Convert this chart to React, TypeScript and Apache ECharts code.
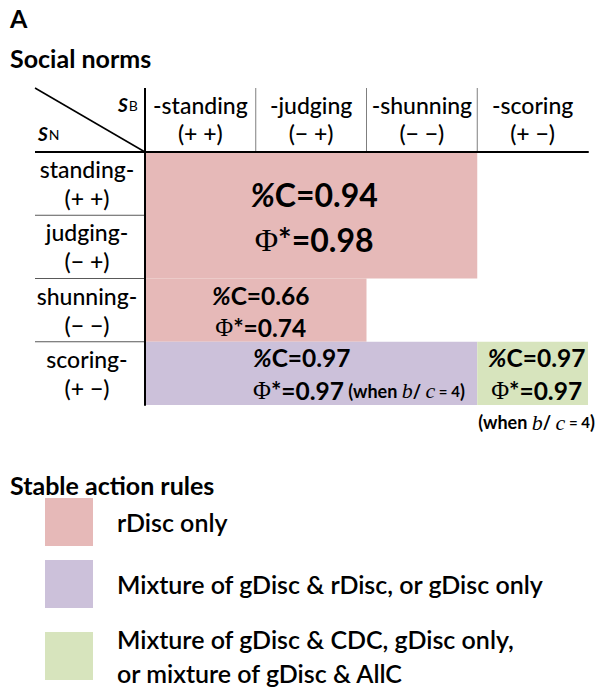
import React, { useEffect, useRef } from 'react';
import * as echarts from 'echarts';

// ---------- data ----------
const colNorms = ['-standing', '-judging', '-shunning', '-scoring'];
const colSigns = ['(+ +)', '(− +)', '(− −)', '(+ −)'];
const rowNorms = ['standing-', 'judging-', 'shunning-', 'scoring-'];
const rowSigns = ['(+ +)', '(− +)', '(− −)', '(+ −)'];
const ruleNames = [
  'rDisc only',
  'Mixture of gDisc & rDisc, or gDisc only',
  'Mixture of gDisc & CDC, gDisc only,\nor mixture of gDisc & AllC',
];
const ruleColors = ['#e6b9b8', '#ccc1da', '#d7e4bd'];
// blocks of norm combinations sharing the same stable action rules
const blockRule = [0, 0, 1, 2];
const blockColStart = [0, 0, 0, 3];
const blockColEnd = [2, 1, 2, 3];
const blockRowStart = [0, 2, 3, 3];
const blockRowEnd = [1, 2, 3, 3];
const blockCoop = [0.94, 0.66, 0.97, 0.97];
const blockPhi = [0.98, 0.74, 0.97, 0.97];
const blockBC = [0, 0, 4, 4]; // b/c condition (0 = none)

// ---------- layout (not data) ----------
const FONT = 'Lato';
const GRID = { left: 145, top: 152, width: 443, height: 253 };
const HEADER_TOP = 88;
const LABEL_LEFT = 35;
const blockTextLayout = [
  { size: 32, lh: 45, align: 'center', dx: 3, dy: 2, below: false },
  { size: 24.5, lh: 32, align: 'center', dx: 5, dy: 1, below: false },
  { size: 24.5, lh: 33, align: 'left', dx: 108, dy: 1, below: false },
  { size: 24.5, lh: 33, align: 'center', dx: 4, dy: 1, below: true },
];

function richFor(size: number, lh: number) {
  return {
    pct: { fontFamily: FONT, fontSize: size, fontWeight: 'bold', fontStyle: 'italic', lineHeight: lh, fill: '#000' },
    m: { fontFamily: FONT, fontSize: size, fontWeight: 'bold', lineHeight: lh, fill: '#000' },
    phi: { fontFamily: 'Liberation Serif', fontSize: size, lineHeight: lh, fill: '#000' },
    s: { fontFamily: FONT, fontSize: 18, fontWeight: 'bold', lineHeight: 30, fill: '#000' },
    it: { fontFamily: 'Liberation Serif', fontSize: 22, fontStyle: 'italic', lineHeight: 30, fill: '#000' },
    t: { fontFamily: FONT, fontSize: 15, fontWeight: 'bold', lineHeight: 30, fill: '#000' },
  };
}

function blockText(i: number) {
  const lay = blockTextLayout[i];
  const c = blockCoop[i].toFixed(2);
  const p = blockPhi[i].toFixed(2);
  const line1 = `{pct|%}{m|C=${c}}`;
  let line2 = `{phi|Φ}{m|*=${p}}`;
  if (blockBC[i]) {
    const cond = `{s|(when }{it|b}{s|/ }{it|c}{t| = ${blockBC[i]}}{s|)}`;
    if (lay.below) return `${line1}\n${line2}\n${cond}`;
    line2 += `{s| }${cond}`;
  }
  return `${line1}\n${line2}`;
}

export default function App() {
  const ref = useRef<HTMLDivElement>(null);
  useEffect(() => {
    if (!ref.current) return;
    const chart = echarts.init(ref.current, null, { renderer: 'svg' });

    const series = ruleNames.map((name, r) => ({
      type: 'custom',
      name,
      itemStyle: { color: ruleColors[r] },
      data: blockRule
        .map((rule, i) => (rule === r ? [blockColStart[i], blockRowStart[i], blockColEnd[i], blockRowEnd[i], i] : null))
        .filter((d) => d !== null),
      renderItem: (params: any, api: any) => {
        const c0 = api.value(0), r0 = api.value(1), c1 = api.value(2), r1 = api.value(3);
        const i = api.value(4);
        const p0 = api.coord([c0, r0]);
        const p1 = api.coord([c1, r1]);
        const sz = api.size([1, 1]);
        const x = p0[0] - sz[0] / 2;
        const y = p0[1] - sz[1] / 2;
        const w = p1[0] - p0[0] + sz[0];
        const h = p1[1] - p0[1] + sz[1];
        const lay = blockTextLayout[i];
        const cx = x + w / 2;
        const cy = y + h / 2;
        return {
          type: 'group',
          children: [
            { type: 'rect', shape: { x, y, width: w, height: h }, style: { fill: ruleColors[r] } },
            {
              type: 'text',
              style: {
                text: blockText(i),
                x: lay.align === 'left' ? x + lay.dx : cx + lay.dx,
                y: cy + lay.dy - lay.lh,
                align: lay.align,
                verticalAlign: 'top',
                rich: richFor(lay.size, lay.lh),
              },
            },
          ],
        };
      },
    }));

    const colW = GRID.width / colNorms.length;
    const rowH = GRID.height / rowNorms.length;
    const lines: any[] = [
      { type: 'line', shape: { x1: LABEL_LEFT, y1: HEADER_TOP, x2: GRID.left, y2: GRID.top }, style: { stroke: '#000', lineWidth: 1.5 } },
      { type: 'line', shape: { x1: GRID.left, y1: HEADER_TOP, x2: GRID.left, y2: GRID.top }, style: { stroke: '#000', lineWidth: 2 } },
      { type: 'line', shape: { x1: LABEL_LEFT, y1: GRID.top, x2: GRID.left, y2: GRID.top }, style: { stroke: '#000', lineWidth: 2 } },
    ];
    for (let k = 1; k < colNorms.length; k++) {
      const xx = GRID.left + k * colW;
      lines.push({ type: 'line', shape: { x1: xx, y1: HEADER_TOP, x2: xx, y2: GRID.top }, style: { stroke: '#7f7f7f', lineWidth: 1 } });
    }
    for (let k = 1; k < rowNorms.length; k++) {
      const yy = GRID.top + k * rowH;
      lines.push({ type: 'line', shape: { x1: LABEL_LEFT, y1: yy, x2: GRID.left, y2: yy }, style: { stroke: '#595959', lineWidth: 1 } });
    }
    const subRich = {
      s: { fontFamily: FONT, fontSize: 19, fontWeight: 'bold', fontStyle: 'italic', fill: '#000', verticalAlign: 'middle' },
      sub: { fontFamily: FONT, fontSize: 14, fill: '#000', verticalAlign: 'middle', padding: [2, 0, 0, 1] },
    };
    lines.push({ type: 'text', x: 118, y: 104, style: { text: '{s|S}{sub|B}', rich: subRich, verticalAlign: 'middle' } });
    lines.push({ type: 'text', x: 38, y: 133, style: { text: '{s|S}{sub|N}', rich: subRich, verticalAlign: 'middle' } });

    const titleStyle = { fontFamily: FONT, fontWeight: 'bold', color: '#000' };
    chart.setOption({
      animation: false,
      backgroundColor: '#fff',
      title: [
        { text: 'A', left: 10, top: 5, padding: 0, textStyle: { ...titleStyle, fontSize: 25 } },
        { text: 'Social norms', left: 10, top: 45, padding: 0, textStyle: { ...titleStyle, fontSize: 25 } },
        { text: 'Stable action rules', left: 10, top: 472, padding: 0, textStyle: { ...titleStyle, fontSize: 25 } },
      ],
      grid: { ...GRID },
      xAxis: {
        type: 'category',
        data: colNorms,
        position: 'top',
        z: 5,
        axisLine: { show: true, lineStyle: { color: '#000', width: 2 } },
        axisTick: { show: false },
        splitLine: { show: false },
        axisLabel: {
          interval: 0,
          formatter: (v: string, i: number) => `${v}\n${colSigns[i]}`,
          fontFamily: FONT,
          fontSize: 23,
          fontWeight: 500,
          color: '#000',
          lineHeight: 28,
          margin: 5,
        },
      },
      yAxis: {
        type: 'category',
        data: rowNorms,
        inverse: true,
        z: 5,
        axisLine: { show: true, lineStyle: { color: '#000', width: 2 } },
        axisTick: { show: false },
        splitLine: { show: false },
        axisLabel: {
          interval: 0,
          formatter: (v: string, i: number) => `${v}\n${rowSigns[i]}`,
          fontFamily: FONT,
          fontSize: 23,
          fontWeight: 500,
          color: '#000',
          lineHeight: 29,
          align: 'center',
          margin: 58,
        },
      },
      legend: {
        orient: 'vertical',
        left: 45,
        top: 498,
        height: 300,
        padding: 0,
        icon: 'rect',
        itemWidth: 48,
        itemHeight: 48,
        itemGap: 14,
        selectedMode: false,
        data: ruleNames,
        textStyle: { fontFamily: FONT, fontSize: 25, fontWeight: 600, color: '#000', lineHeight: 34, padding: [0, 0, 0, 19] },
      },
      graphic: lines,
      series,
    });
    return () => chart.dispose();
  }, []);
  return <div ref={ref} style={{ position: 'absolute', left: 0, top: 0, width: 603, height: 690 }} />;
}
